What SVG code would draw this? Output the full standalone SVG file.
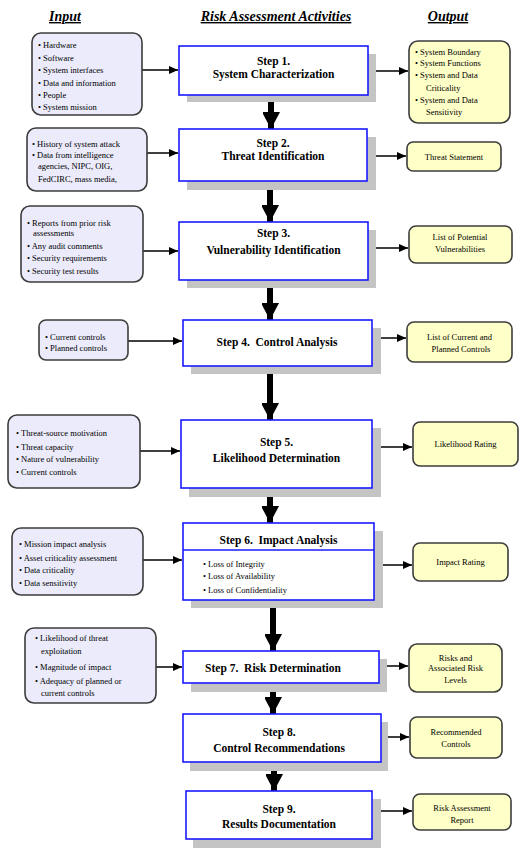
<svg xmlns="http://www.w3.org/2000/svg" width="532" height="858" viewBox="0 0 532 858">
<defs>
<marker id="ah" markerWidth="9" markerHeight="8" refX="9" refY="4" orient="auto" markerUnits="userSpaceOnUse"><path d="M0,0 L9,4 L0,8 Z" fill="#000"/></marker>
<marker id="big" markerWidth="18" markerHeight="17" refX="17" refY="9" orient="auto" markerUnits="userSpaceOnUse"><path d="M0,0 L17,9 L0,18 Z" fill="#000"/></marker>
<style>
.hd{font-family:"Liberation Serif","Times New Roman",serif;font-weight:bold;font-style:italic;font-size:14px;text-decoration:underline;fill:#000}
.in{fill:#ebebfb;stroke:#3c3c3c;stroke-width:1.6}
.out{fill:#ffffc8;stroke:#3c3c3c;stroke-width:1.6}
.step{fill:#fff;stroke:#1a1aff;stroke-width:1.6}
.sh{fill:#c4c4c4}
.t{font-family:"Liberation Serif","Times New Roman",serif;font-size:8.5px;fill:#000}
.st{font-family:"Liberation Serif","Times New Roman",serif;font-weight:bold;font-size:11.5px;fill:#000;text-anchor:middle}
.c{text-anchor:middle}
.ln{stroke:#000;stroke-width:1.5;fill:none;marker-end:url(#ah)}
.bl{stroke:#000;stroke-width:6;fill:none;marker-end:url(#big)}
</style>
</defs>
<rect width="532" height="858" fill="#fff"/>
<g id="headers">
<text class="hd" x="65" y="21" text-anchor="middle">Input</text>
<text class="hd" x="276" y="21" text-anchor="middle">Risk Assessment Activities</text>
<text class="hd" x="448" y="21" text-anchor="middle">Output</text>
</g>
<g id="connectors">
<line class="ln" x1="142" y1="70" x2="178" y2="70"/>
<line class="ln" x1="368" y1="71" x2="408" y2="71"/>
<line class="bl" x1="271" y1="95" x2="271" y2="129"/>
<line class="ln" x1="147" y1="153" x2="178" y2="153"/>
<line class="ln" x1="367" y1="156" x2="406" y2="156"/>
<line class="bl" x1="270" y1="181" x2="270" y2="222"/>
<line class="ln" x1="143" y1="251" x2="178" y2="251"/>
<line class="ln" x1="368" y1="248" x2="408" y2="248"/>
<line class="bl" x1="270" y1="280" x2="270" y2="320"/>
<line class="ln" x1="128" y1="341" x2="182" y2="341"/>
<line class="ln" x1="372" y1="338" x2="406" y2="338"/>
<line class="bl" x1="270" y1="366" x2="270" y2="420"/>
<line class="ln" x1="140" y1="451" x2="180" y2="451"/>
<line class="ln" x1="372" y1="447" x2="412" y2="447"/>
<line class="bl" x1="270" y1="488" x2="270" y2="523"/>
<line class="ln" x1="143" y1="560" x2="182" y2="560"/>
<line class="ln" x1="374" y1="565" x2="412" y2="565"/>
<line class="bl" x1="273" y1="600" x2="273" y2="651"/>
<line class="ln" x1="156" y1="667" x2="182" y2="667"/>
<line class="ln" x1="379" y1="666" x2="408" y2="666"/>
<line class="bl" x1="273" y1="683" x2="273" y2="714"/>
<line class="ln" x1="379" y1="737" x2="409" y2="737"/>
<line class="bl" x1="274" y1="762" x2="274" y2="791"/>
<line class="ln" x1="372" y1="811" x2="412" y2="811"/>
</g>
<g id="in1">
<rect class="in" x="32" y="33" width="110" height="82" rx="9"/>
<text class="t" x="38" y="48">• Hardware</text>
<text class="t" x="38" y="61">• Software</text>
<text class="t" x="38" y="73">• System interfaces</text>
<text class="t" x="38" y="86">• Data and information</text>
<text class="t" x="38" y="98">• People</text>
<text class="t" x="38" y="110">• System mission</text>
</g>
<g id="step1">
<rect class="sh" x="187" y="54" width="189" height="48"/>
<rect class="step" x="179" y="46" width="189" height="49"/>
<text class="st" x="273.5" y="65">Step 1.</text>
<text class="st" x="273.5" y="78">System Characterization</text>
</g>
<g id="out1">
<rect class="out" x="409" y="41" width="101" height="82" rx="9"/>
<text class="t" x="415" y="55">• System Boundary</text>
<text class="t" x="415" y="66">• System Functions</text>
<text class="t" x="415" y="78">• System and Data</text>
<text class="t" x="426" y="91">Criticality</text>
<text class="t" x="415" y="103">• System and Data</text>
<text class="t" x="426" y="115">Sensitivity</text>
</g>
<g id="in2">
<rect class="in" x="27" y="128" width="120" height="63" rx="9"/>
<text class="t" x="32" y="147">• History of system attack</text>
<text class="t" x="32" y="158">• Data from intelligence</text>
<text class="t" x="38" y="169">agencies, NIPC, OIG,</text>
<text class="t" x="38" y="182">FedCIRC, mass media,</text>
</g>
<g id="step2">
<rect class="sh" x="187" y="137" width="189" height="53"/>
<rect class="step" x="179" y="129" width="188" height="52"/>
<text class="st" x="273" y="147">Step 2.</text>
<text class="st" x="273" y="160">Threat Identification</text>
</g>
<g id="out2">
<rect class="out" x="407" y="142" width="94" height="29" rx="6"/>
<text class="t c" x="454" y="160">Threat Statement</text>
</g>
<g id="in3">
<rect class="in" x="21" y="206" width="122" height="76" rx="9"/>
<text class="t" x="27" y="226">• Reports from prior risk</text>
<text class="t" x="33" y="236">assessments</text>
<text class="t" x="27" y="249">• Any audit comments</text>
<text class="t" x="27" y="261">• Security requirements</text>
<text class="t" x="27" y="274">• Security test results</text>
</g>
<g id="step3">
<rect class="sh" x="187" y="230" width="189" height="58"/>
<rect class="step" x="179" y="222" width="189" height="58"/>
<text class="st" x="273.5" y="237">Step 3.</text>
<text class="st" x="273.5" y="254">Vulnerability Identification</text>
</g>
<g id="out3">
<rect class="out" x="409" y="226" width="103" height="37" rx="7"/>
<text class="t c" x="460" y="240">List of Potential</text>
<text class="t c" x="460" y="252">Vulnerabilities</text>
</g>
<g id="in4">
<rect class="in" x="39" y="320" width="89" height="40" rx="7"/>
<text class="t" x="45" y="340">• Current controls</text>
<text class="t" x="45" y="351">• Planned controls</text>
</g>
<g id="step4">
<rect class="sh" x="191" y="328" width="190" height="46"/>
<rect class="step" x="183" y="320" width="189" height="46"/>
<text class="st" x="277" y="346" xml:space="preserve">Step 4.  Control Analysis</text>
</g>
<g id="out4">
<rect class="out" x="407" y="322" width="105" height="40" rx="7"/>
<text class="t c" x="459.5" y="340">List of Current and</text>
<text class="t c" x="461" y="352">Planned Controls</text>
</g>
<g id="in5">
<rect class="in" x="8" y="415" width="132" height="73" rx="9"/>
<text class="t" x="16" y="436">• Threat-source motivation</text>
<text class="t" x="16" y="450">• Threat capacity</text>
<text class="t" x="16" y="462">• Nature of vulnerability</text>
<text class="t" x="16" y="475">• Current controls</text>
</g>
<g id="step5">
<rect class="sh" x="189" y="428" width="192" height="69"/>
<rect class="step" x="181" y="420" width="191" height="68"/>
<text class="st" x="276.5" y="446">Step 5.</text>
<text class="st" x="276.5" y="462">Likelihood Determination</text>
</g>
<g id="out5">
<rect class="out" x="413" y="422" width="105" height="44" rx="7"/>
<text class="t c" x="465.5" y="447">Likelihood Rating</text>
</g>
<g id="in6">
<rect class="in" x="12" y="528" width="131" height="67" rx="9"/>
<text class="t" x="19" y="547">• Mission impact analysis</text>
<text class="t" x="19" y="561">• Asset criticality assessment</text>
<text class="t" x="19" y="573">• Data criticality</text>
<text class="t" x="19" y="586">• Data sensitivity</text>
</g>
<g id="step6">
<rect class="sh" x="191" y="531" width="192" height="77"/>
<rect class="step" x="183" y="523" width="191" height="77"/>
<line x1="183" y1="550" x2="374" y2="550" stroke="#1a1aff" stroke-width="1.6"/>
<text class="st" x="278.5" y="544" xml:space="preserve">Step 6.  Impact Analysis</text>
<text class="t" x="203" y="567">• Loss of Integrity</text>
<text class="t" x="203" y="579">• Loss of Availability</text>
<text class="t" x="203" y="593">• Loss of Confidentiality</text>
</g>
<g id="out6">
<rect class="out" x="413" y="543" width="95" height="38" rx="7"/>
<text class="t c" x="460.5" y="565">Impact Rating</text>
</g>
<g id="in7">
<rect class="in" x="25" y="628" width="131" height="75" rx="9"/>
<text class="t" x="35" y="641">• Likelihood of threat</text>
<text class="t" x="41" y="654">exploitation</text>
<text class="t" x="35" y="670">• Magnitude of impact</text>
<text class="t" x="35" y="684">• Adequacy of planned or</text>
<text class="t" x="41" y="696">current controls</text>
</g>
<g id="step7">
<rect class="sh" x="191" y="659" width="196" height="33"/>
<rect class="step" x="183" y="651" width="196" height="32"/>
<text class="st" x="273" y="672" xml:space="preserve">Step 7.  Risk Determination</text>
</g>
<g id="out7">
<rect class="out" x="409" y="644" width="93" height="48" rx="8"/>
<text class="t c" x="455.5" y="661">Risks and</text>
<text class="t c" x="455.5" y="671">Associated Risk</text>
<text class="t c" x="455.5" y="683">Levels</text>
</g>
<g id="step8">
<rect class="sh" x="190" y="722" width="198" height="49"/>
<rect class="step" x="183" y="714" width="198" height="48"/>
<text class="st" x="279" y="736">Step 8.</text>
<text class="st" x="279" y="752">Control Recommendations</text>
</g>
<g id="out8">
<rect class="out" x="410" y="717" width="92" height="41" rx="7"/>
<text class="t c" x="456" y="735">Recommended</text>
<text class="t c" x="456" y="747">Controls</text>
</g>
<g id="step9">
<rect class="sh" x="193" y="799" width="188" height="49"/>
<rect class="step" x="186" y="791" width="186" height="48"/>
<text class="st" x="279" y="813">Step 9.</text>
<text class="st" x="279" y="828">Results Documentation</text>
</g>
<g id="out9">
<rect class="out" x="413" y="794" width="98" height="36" rx="7"/>
<text class="t c" x="462" y="811">Risk Assessment</text>
<text class="t c" x="462" y="823">Report</text>
</g>
</svg>
